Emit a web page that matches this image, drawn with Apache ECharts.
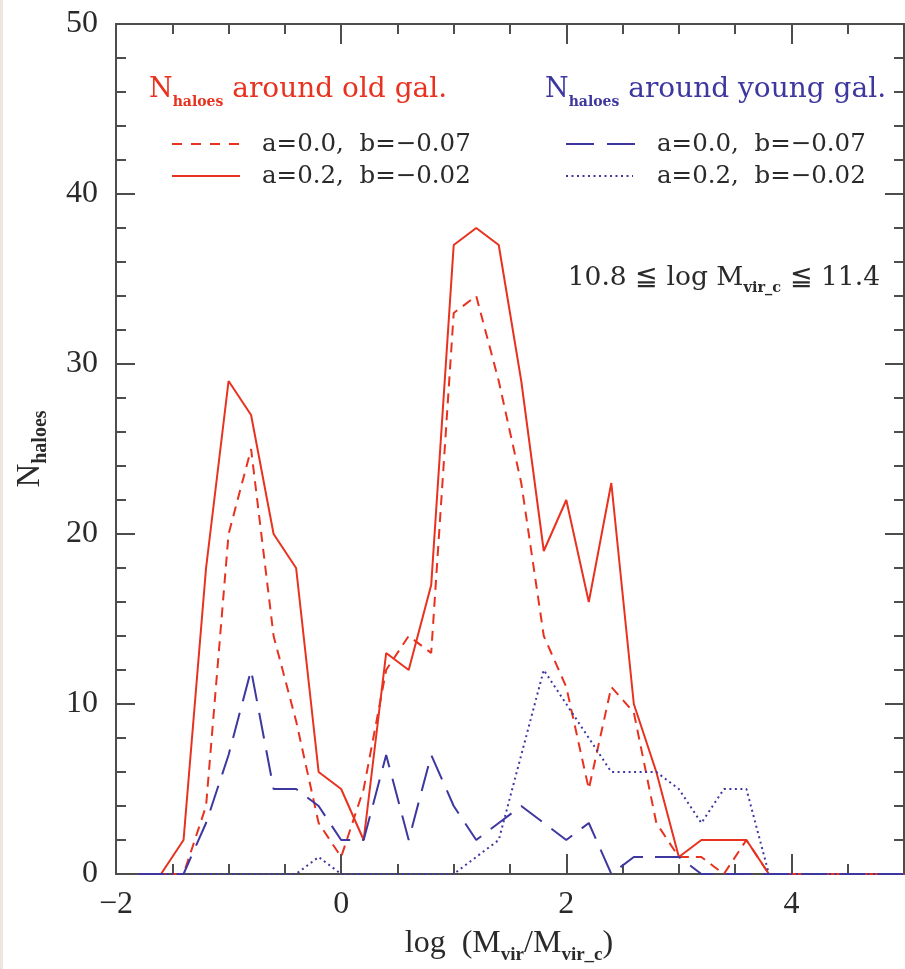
<!DOCTYPE html>
<html>
<head>
<meta charset="utf-8">
<script src="https://cdn.jsdelivr.net/npm/echarts@6/dist/echarts.min.js"></script>
<style>
  html, body { margin: 0; padding: 0; background: #ffffff; }
  #chart { width: 905px; height: 969px; }
</style>
</head>
<body>
<div id="chart"></div>
<script>
// bin centres, log(Mvir / Mvir_c)
const binCentres = [-1.8, -1.6, -1.4, -1.2, -1.0, -0.8, -0.6, -0.4, -0.2, 0.0,
                    0.2, 0.4, 0.6, 0.8, 1.0, 1.2, 1.4, 1.6, 1.8, 2.0,
                    2.2, 2.4, 2.6, 2.8, 3.0, 3.2, 3.4, 3.6, 3.8, 4.0,
                    4.2, 4.4, 4.6, 4.8, 5.0];

// N_haloes around old galaxies
const oldA00 = [0, 0, 0, 4, 20, 25, 14, 9, 3, 1,
                5, 12, 14, 13, 33, 34, 29, 23, 14, 11,
                5, 11, 9.5, 3, 1, 1, 0, 2, 0, 0,
                0, 0, 0, 0, 0];
const oldA02 = [0, 0, 2, 18, 29, 27, 20, 18, 6, 5,
                2, 13, 12, 17, 37, 38, 37, 29, 19, 22,
                16, 23, 10, 6, 1, 2, 2, 2, 0, 0,
                0, 0, 0, 0, 0];

// N_haloes around young galaxies
const youngA00 = [0, 0, 0, 3, 7, 12, 5, 5, 4, 2,
                  2, 7, 2, 7, 4, 2, 3, 4, 3, 2,
                  3, 0, 1, 1, 1, 0, 0, 0, 0, 0,
                  0, 0, 0, 0, 0];
const youngA02 = [0, 0, 0, 0, 0, 0, 0, 0, 1, 0,
                  0, 0, 0, 0, 0, 1, 2, 7, 12, 10,
                  8, 6, 6, 6, 5, 3, 5, 5, 0, 0,
                  0, 0, 0, 0, 0];

const xTickValues = [-2, 0, 2, 4];
const yTickValues = [0, 10, 20, 30, 40, 50];

const RED = '#e8321f';
const BLUE = '#3d379f';
const INK = '#2a2a2a';
const AXIS = '#4d4d4d';
const SERIF = "'DejaVu Serif', serif";
const TIMES = "'Liberation Serif', serif";

const pairs = (ys) => binCentres.map((x, i) => [x, ys[i]]);

function xAxisDef(position, interval, tickLen, showLine, showLabel) {
  return {
    type: 'value', position: position, min: -2, max: 5, interval: interval,
    axisLine: { show: showLine, onZero: false, lineStyle: { color: AXIS, width: 2 } },
    axisTick: { show: true, inside: true, length: tickLen, lineStyle: { color: AXIS, width: 2 } },
    axisLabel: {
      show: showLabel, showMaxLabel: false, margin: 15,
      fontFamily: TIMES, fontSize: 32, color: INK,
      formatter: (v) => xTickValues.indexOf(v) >= 0 ? String(v).replace('-', '\u2212') : ''
    },
    splitLine: { show: false }
  };
}

function yAxisDef(position, showLabel) {
  return {
    type: 'value', position: position, min: 0, max: 50, interval: 10,
    axisLine: { show: true, onZero: false, lineStyle: { color: AXIS, width: 2 } },
    axisTick: { show: true, inside: true, length: 19, lineStyle: { color: AXIS, width: 2 } },
    minorTick: { show: true, splitNumber: 5, length: 10, lineStyle: { color: AXIS, width: 2 } },
    axisLabel: {
      show: showLabel, margin: 18, fontFamily: TIMES, fontSize: 32, color: INK,
      formatter: (v) => yTickValues.indexOf(v) >= 0 ? String(v) : ''
    },
    splitLine: { show: false }
  };
}

function lineSeries(name, ys, color, dash) {
  return {
    name: name, type: 'line', data: pairs(ys),
    xAxisIndex: 0, yAxisIndex: 0,
    showSymbol: false, symbol: 'none', clip: true,
    lineStyle: { color: color, width: 2, type: dash },
    emphasis: { disabled: true }
  };
}

const subRich = (color, size) => ({
  fontFamily: SERIF, fontSize: size, fontWeight: 'bold', fill: color,
  lineHeight: 14, verticalAlign: 'bottom'
});

const chart = echarts.init(document.getElementById('chart'), null, { renderer: 'canvas' });

chart.setOption({
  animation: false,
  backgroundColor: '#ffffff',
  grid: { left: 116, right: 1, top: 24, bottom: 95, containLabel: false },
  xAxis: [
    xAxisDef('bottom', 2, 20, true, true),
    xAxisDef('bottom', 0.5, 10, false, false),
    xAxisDef('top', 2, 20, true, false),
    xAxisDef('top', 0.5, 10, false, false)
  ],
  yAxis: [
    yAxisDef('left', true),
    yAxisDef('right', false)
  ],
  series: [
    lineSeries('old a=0.0', oldA00, RED, [10, 7]),
    lineSeries('old a=0.2', oldA02, RED, 'solid'),
    lineSeries('young a=0.0', youngA00, BLUE, [26, 12]),
    lineSeries('young a=0.2', youngA02, BLUE, [2, 3.5])
  ],
  graphic: [
    { type: 'rect', left: 0, top: 0, shape: { width: 3, height: 969 }, style: { fill: '#ebe7df' }, silent: true },

    // panel headers
    { type: 'text', x: 149, y: 90, silent: true,
      style: { text: '{n|N}{s|haloes}{t| around old gal.}', verticalAlign: 'middle', align: 'left',
        rich: {
          n: { fontFamily: SERIF, fontSize: 27, fill: RED, lineHeight: 38 },
          s: subRich(RED, 14),
          t: { fontFamily: SERIF, fontSize: 28, fill: RED, lineHeight: 38 }
        } } },
    { type: 'text', x: 545, y: 90, silent: true,
      style: { text: '{n|N}{s|haloes}{t| around young gal.}', verticalAlign: 'middle', align: 'left',
        rich: {
          n: { fontFamily: SERIF, fontSize: 27, fill: BLUE, lineHeight: 38 },
          s: subRich(BLUE, 14),
          t: { fontFamily: SERIF, fontSize: 28, fill: BLUE, lineHeight: 38 }
        } } },

    // legend keys
    { type: 'line', silent: true, shape: { x1: 172, y1: 144, x2: 240, y2: 144 },
      style: { stroke: RED, lineWidth: 2, lineDash: [10, 9] } },
    { type: 'line', silent: true, shape: { x1: 172, y1: 176, x2: 240, y2: 176 },
      style: { stroke: RED, lineWidth: 2 } },
    { type: 'line', silent: true, shape: { x1: 566, y1: 144, x2: 635, y2: 144 },
      style: { stroke: BLUE, lineWidth: 2, lineDash: [28, 13] } },
    { type: 'line', silent: true, shape: { x1: 566, y1: 176, x2: 633, y2: 176 },
      style: { stroke: BLUE, lineWidth: 2, lineDash: [2, 3.5] } },
    { type: 'text', x: 262, y: 145, silent: true,
      style: { text: 'a=0.0,  b=\u22120.07', fontFamily: SERIF, fontSize: 24.5, fill: INK, verticalAlign: 'middle' } },
    { type: 'text', x: 262, y: 177, silent: true,
      style: { text: 'a=0.2,  b=\u22120.02', fontFamily: SERIF, fontSize: 24.5, fill: INK, verticalAlign: 'middle' } },
    { type: 'text', x: 657, y: 145, silent: true,
      style: { text: 'a=0.0,  b=\u22120.07', fontFamily: SERIF, fontSize: 24.5, fill: INK, verticalAlign: 'middle' } },
    { type: 'text', x: 657, y: 177, silent: true,
      style: { text: 'a=0.2,  b=\u22120.02', fontFamily: SERIF, fontSize: 24.5, fill: INK, verticalAlign: 'middle' } },

    // mass range of the central galaxies
    { type: 'text', x: 880, y: 278, silent: true,
      style: { text: '{t|10.8 \u2266 log M}{s|vir_c}{t| \u2266 11.4}', align: 'right', verticalAlign: 'middle',
        rich: {
          t: { fontFamily: SERIF, fontSize: 26.5, fill: INK, lineHeight: 36 },
          s: subRich(INK, 14.5)
        } } },

    // axis titles
    { type: 'text', x: 509, y: 944, silent: true,
      style: { text: '{t|log  (M}{s|vir}{t|/M}{s|vir_c}{t|)}', align: 'center', verticalAlign: 'middle',
        rich: {
          t: { fontFamily: TIMES, fontSize: 32, fill: INK, lineHeight: 42 },
          s: { fontFamily: TIMES, fontSize: 19, fontWeight: 'bold', fill: INK, lineHeight: 17, verticalAlign: 'bottom' }
        } } },
    { type: 'text', x: 30, y: 449, rotation: Math.PI / 2, silent: true,
      style: { text: '{t|N}{s|haloes}', align: 'center', verticalAlign: 'middle',
        rich: {
          t: { fontFamily: TIMES, fontSize: 33, fill: INK, lineHeight: 42 },
          s: { fontFamily: TIMES, fontSize: 20, fontWeight: 'bold', fill: INK, lineHeight: 17, verticalAlign: 'bottom' }
        } } }
  ]
});
</script>
</body>
</html>
